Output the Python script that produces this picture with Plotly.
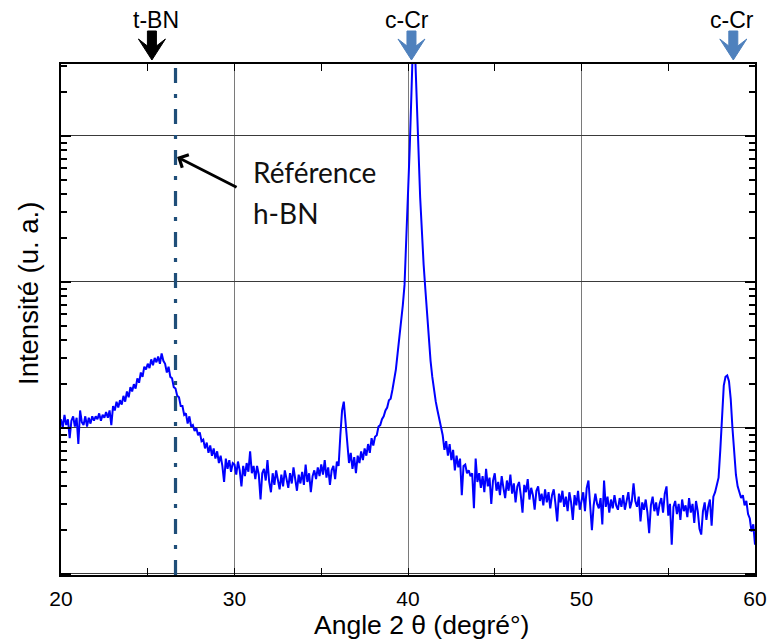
import numpy as np
import plotly.graph_objects as go

# ---------------- data ----------------
angle_start = 20.0
angle_step = 0.1

# log10(intensity) values, 20.0 -> 29.9
log_int_20_30 = [2.06, 2.00, 2.09, 2.02, 2.06, 1.93, 2.05, 2.08, 2.01, 2.07,
                 1.89, 2.12, 2.04, 2.02, 2.08, 2.01, 2.07, 2.03, 2.08, 2.05,
                 2.08, 2.06, 2.10, 2.05, 2.09, 2.07, 2.11, 2.07, 2.12, 2.02,
                 2.15, 2.12, 2.18, 2.14, 2.19, 2.16, 2.22, 2.18, 2.25, 2.21,
                 2.28, 2.25, 2.30, 2.27, 2.34, 2.31, 2.38, 2.35, 2.42, 2.40,
                 2.44, 2.41, 2.47, 2.43, 2.48, 2.45, 2.49, 2.44, 2.51, 2.46,
                 2.44, 2.38, 2.42, 2.35, 2.34, 2.28, 2.27, 2.22, 2.21, 2.15,
                 2.15, 2.09, 2.10, 2.03, 2.08, 2.01, 2.02, 1.98, 2.00, 1.95,
                 1.97, 1.91, 1.92, 1.86, 1.90, 1.83, 1.88, 1.81, 1.86, 1.79,
                 1.84, 1.76, 1.81, 1.74, 1.63, 1.79, 1.72, 1.78, 1.70, 1.76]
# 30.0 -> 39.9
log_int_30_40 = [1.75, 1.68, 1.77, 1.71, 1.60, 1.74, 1.67, 1.76, 1.70, 1.84,
                 1.69, 1.74, 1.65, 1.74, 1.68, 1.51, 1.69, 1.72, 1.64, 1.78,
                 1.63, 1.56, 1.69, 1.61, 1.71, 1.64, 1.58, 1.68, 1.60, 1.71,
                 1.65, 1.59, 1.69, 1.62, 1.73, 1.64, 1.57, 1.68, 1.62, 1.70,
                 1.61, 1.75, 1.63, 1.69, 1.56, 1.67, 1.71, 1.65, 1.73, 1.67,
                 1.75, 1.68, 1.78, 1.66, 1.73, 1.61, 1.71, 1.74, 1.65, 1.77,
                 1.74, 1.95, 2.12, 2.18, 2.05, 1.87, 1.76, 1.83, 1.72, 1.80,
                 1.69, 1.81, 1.76, 1.84, 1.78, 1.86, 1.81, 1.89, 1.83, 1.93,
                 1.88, 1.94, 1.95, 2.01, 2.02, 2.06, 2.08, 2.12, 2.14, 2.19,
                 2.20, 2.26, 2.33, 2.40, 2.51, 2.61, 2.72, 2.84, 2.98, 3.26]
# 40.0 -> 49.9
log_int_40_50 = [3.62, 3.92, 4.30, 4.70, 4.60, 4.20, 3.92, 3.58, 3.33, 3.12,
                 2.95, 2.77, 2.62, 2.46, 2.35, 2.25, 2.18, 2.12, 2.06, 2.01,
                 1.95, 1.85, 1.91, 1.81, 1.89, 1.78, 1.85, 1.71, 1.81, 1.73,
                 1.79, 1.54, 1.74, 1.75, 1.69, 1.71, 1.67, 1.69, 1.45, 1.79,
                 1.63, 1.69, 1.59, 1.67, 1.56, 1.72, 1.60, 1.66, 1.48, 1.64,
                 1.69, 1.57, 1.63, 1.54, 1.67, 1.59, 1.52, 1.64, 1.57, 1.68,
                 1.55, 1.62, 1.49, 1.60, 1.63, 1.54, 1.42, 1.61, 1.56, 1.65,
                 1.51, 1.59, 1.54, 1.44, 1.57, 1.60, 1.50, 1.55, 1.47, 1.58,
                 1.49, 1.56, 1.45, 1.54, 1.58, 1.48, 1.36, 1.55, 1.49, 1.57,
                 1.46, 1.53, 1.43, 1.56, 1.49, 1.37, 1.54, 1.47, 1.57, 1.44]
# 50.0 -> 60.0
log_int_50_60 = [1.50, 1.56, 1.43, 1.59, 1.64, 1.45, 1.30, 1.47, 1.55, 1.48,
                 1.45, 1.52, 1.34, 1.64, 1.46, 1.53, 1.42, 1.51, 1.45, 1.54,
                 1.47, 1.44, 1.52, 1.46, 1.54, 1.44, 1.51, 1.56, 1.45, 1.50,
                 1.62, 1.50, 1.46, 1.53, 1.36, 1.49, 1.44, 1.51, 1.42, 1.28,
                 1.47, 1.53, 1.43, 1.49, 1.40, 1.48, 1.52, 1.42, 1.55, 1.60,
                 1.40, 1.48, 1.20, 1.46, 1.50, 1.41, 1.48, 1.37, 1.51, 1.43,
                 1.47, 1.39, 1.52, 1.42, 1.48, 1.35, 1.50, 1.43, 1.31, 1.27,
                 1.43, 1.49, 1.37, 1.46, 1.51, 1.33, 1.53, 1.56, 1.61, 1.66,
                 1.85, 2.10, 2.29, 2.35, 2.36, 2.32, 2.20, 2.00, 1.82, 1.68,
                 1.60, 1.55, 1.52, 1.54, 1.47, 1.50, 1.41, 1.38, 1.29, 1.34,
                 1.20]

phase_labels = ["t-BN", "c-Cr", "c-Cr"]
phase_angles = [25.24, 40.20, 58.75]
phase_colors = ["#000000", "#4F81BD", "#4F81BD"]
label_angles = [25.48, 39.94, 58.67]

ref_hbn_angle = 26.6

# ---------------- build ----------------
log_int = np.array(log_int_20_30 + log_int_30_40 + log_int_40_50 + log_int_50_60)
angles = np.round(angle_start + angle_step * np.arange(len(log_int)), 2)
intensity = 10 ** log_int

fig = go.Figure()
fig.add_trace(go.Scatter(x=angles, y=intensity, mode="lines",
                         line=dict(color="#0000FF", width=2),
                         showlegend=False, hoverinfo="x+y"))

# h-BN reference line
fig.add_shape(type="line", xref="x", yref="paper", x0=ref_hbn_angle, x1=ref_hbn_angle,
              y0=0, y1=1, line=dict(color="#1F4E79", width=3.2, dash="15px,11px,4px,11px"))

# phase arrows above the plot
arrow_path = "M -4.5,33 L 4.5,33 L 4.5,18 L 13.5,25 L 0,4 L -13.5,25 L -4.5,18 Z"
for a, c in zip(phase_angles, phase_colors):
    fig.add_shape(type="path", xref="x", yref="paper", xsizemode="pixel", ysizemode="pixel",
                  xanchor=a, yanchor=1.0, path=arrow_path,
                  fillcolor=c, line=dict(color=c, width=1), layer="above")

annotations = []
for lab, a in zip(phase_labels, label_angles):
    annotations.append(dict(x=a, y=(575 - 20) / 511, xref="x", yref="paper", text=lab,
                            showarrow=False, xanchor="center", yanchor="middle",
                            font=dict(family="Liberation Sans, Arial", size=23, color="black")))

# Référence h-BN text + arrow
annotations.append(dict(x=(251 - 61) / 694, y=(575 - 172) / 511, xref="paper", yref="paper",
                        text="Référence", showarrow=False, xanchor="left", yanchor="middle",
                        font=dict(family="Lato, Noto Sans", size=28, color="#111111")))
annotations.append(dict(x=(251 - 61) / 694, y=(575 - 213) / 511, xref="paper", yref="paper",
                        text="h-BN", showarrow=False, xanchor="left", yanchor="middle",
                        font=dict(family="Lato, Noto Sans", size=28, color="#111111")))
annotations.append(dict(x=26.69, y=3.856, xref="x", yref="y", text="", showarrow=True,
                        ax=61, ay=31, axref="pixel", ayref="pixel",
                        arrowhead=4, arrowsize=1.0, arrowwidth=2.8, arrowcolor="black"))

# axis titles
annotations.append(dict(x=(421 - 61) / 694, y=(575 - 625) / 511, xref="paper", yref="paper",
                        text="Angle 2 θ (degré°)", showarrow=False, xanchor="center", yanchor="middle",
                        font=dict(family="Liberation Sans, Arial", size=26.5, color="black")))
annotations.append(dict(x=(28 - 61) / 694, y=(575 - 294) / 511, xref="paper", yref="paper",
                        text="Intensité (u. a.)", showarrow=False, xanchor="center", yanchor="middle",
                        textangle=-90,
                        font=dict(family="Liberation Sans, Arial", size=27.5, color="black")))

fig.update_layout(
    width=769, height=642,
    margin=dict(l=61, r=14, t=64, b=67, autoexpand=False),
    paper_bgcolor="white", plot_bgcolor="white",
    annotations=annotations,
    font=dict(family="Liberation Sans, Arial", color="black"),
)
fig.update_xaxes(range=[20, 60], dtick=10, tick0=20, automargin=False,
                 showgrid=True, gridcolor="#7a7a7a", gridwidth=1,
                 showline=True, linecolor="black", linewidth=2, mirror="allticks",
                 ticks="inside", ticklen=7, tickcolor="black", tickwidth=1,
                 tickfont=dict(size=21, color="black"), ticklabelstandoff=4, zeroline=False,
                 minor=dict(dtick=5, tick0=20, ticks="inside", ticklen=7, tickcolor="black",
                            showgrid=False))
fig.update_yaxes(type="log", range=[0.993, 4.493], dtick=1, automargin=False,
                 showgrid=True, gridcolor="#3a3a3a", gridwidth=1,
                 showline=True, linecolor="black", linewidth=2, mirror="allticks",
                 ticks="inside", ticklen=10, tickcolor="black", tickwidth=1.5,
                 showticklabels=False, zeroline=False,
                 minor=dict(dtick="D1", ticks="inside", ticklen=6, tickcolor="black",
                            showgrid=False))

# remove the page's default body margin so the figure fills the window exactly
fig.write_html("out.html",
               config={"displayModeBar": False},
               post_script="document.body.style.margin='0';document.body.style.overflow='hidden';")
